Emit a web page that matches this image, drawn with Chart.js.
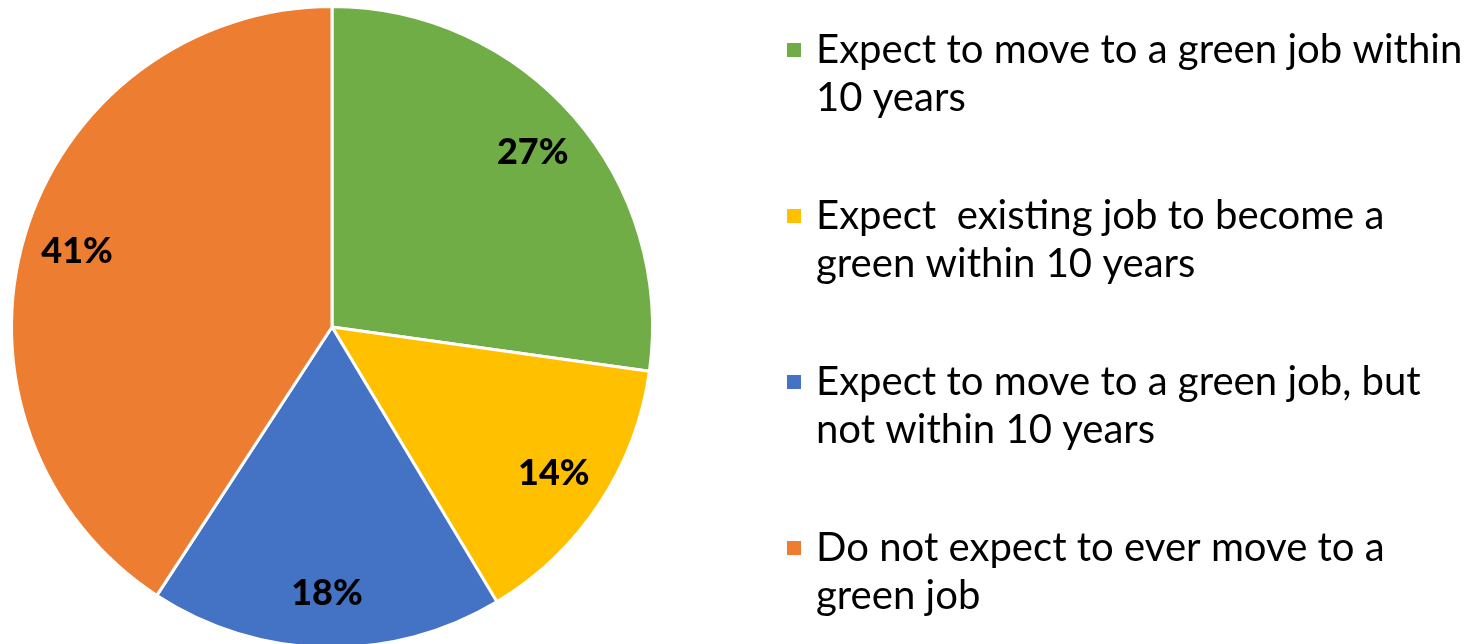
<!DOCTYPE html>
<html>
<head>
<meta charset="utf-8">
<script src="https://cdn.jsdelivr.net/npm/chart.js@4"></script>
<style>
  html, body { margin: 0; padding: 0; background: #fff; overflow: hidden; }
  #wrap { width: 1468px; height: 650px; }
</style>
</head>
<body>
<div id="wrap"><canvas id="pie"></canvas></div>
<script>
  const labels = [
    ['Expect to move to a green job within', '10 years'],
    ['Expect  existing job to become a', 'green within 10 years'],
    ['Expect to move to a green job, but', 'not within 10 years'],
    ['Do not expect to ever move to a', 'green job'],
  ];
  const shares = [27.2, 14.2, 17.8, 40.8];
  const colors = ['#70AD47', '#FFC000', '#4472C4', '#ED7D31'];

  const FONT = 'Lato, "Open Sans", sans-serif';

  // percent labels inside the slices
  const sliceLabels = {
    id: 'sliceLabels',
    afterDatasetsDraw(chart) {
      const ctx = chart.ctx;
      const arcs = chart.getDatasetMeta(0).data;
      ctx.save();
      ctx.font = `900 36px ${FONT}`;
      ctx.fillStyle = '#000';
      ctx.textAlign = 'center';
      ctx.textBaseline = 'middle';
      arcs.forEach((arc, i) => {
        const mid = (arc.startAngle + arc.endAngle) / 2;
        const r = arc.outerRadius * 0.83;
        ctx.fillText(`${Math.round(shares[i])}%`, arc.x + Math.cos(mid) * r, arc.y + Math.sin(mid) * r);
      });
      ctx.restore();
    },
  };

  // legend on the right, two lines per entry
  const sideLegend = {
    id: 'sideLegend',
    afterDraw(chart) {
      const ctx = chart.ctx;
      const textX = 816;
      const boxX = 787;
      const top = 50;
      const step = 166;
      const lineH = 48;
      ctx.save();
      ctx.font = `34px ${FONT}`;
      const fit = 646 / ctx.measureText(labels[0][0]).width;
      ctx.font = `${(34 * fit).toFixed(1)}px ${FONT}`;
      ctx.textBaseline = 'middle';
      ctx.textAlign = 'left';
      labels.forEach((lines, i) => {
        const y = top + i * step;
        ctx.fillStyle = colors[i];
        ctx.fillRect(boxX, y - 7, 14, 14);
        ctx.fillStyle = '#000';
        lines.forEach((line, j) => ctx.fillText(line, textX, y + j * lineH));
      });
      ctx.restore();
    },
  };

  new Chart(document.getElementById('pie'), {
    type: 'pie',
    data: {
      labels,
      datasets: [{
        data: shares,
        backgroundColor: colors,
        borderColor: '#fff',
        borderWidth: 3,
      }],
    },
    options: {
      responsive: true,
      maintainAspectRatio: false,
      animation: false,
      layout: { padding: { left: 10, right: 814, top: 5, bottom: 1 } },
      plugins: {
        legend: { display: false },
        tooltip: { enabled: false },
      },
    },
    plugins: [sliceLabels, sideLegend],
  });
</script>
</body>
</html>
